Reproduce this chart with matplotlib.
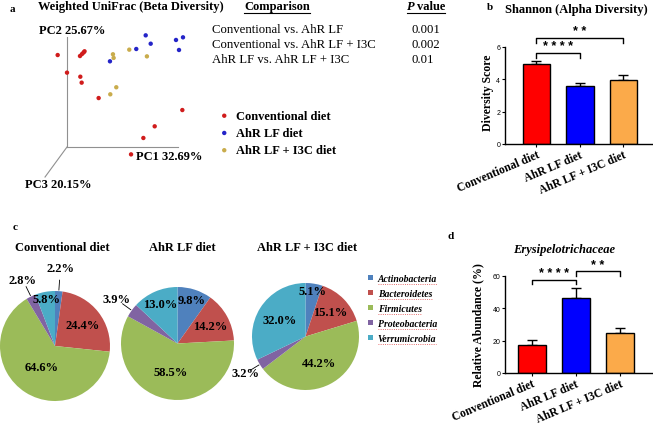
import matplotlib
matplotlib.use('Agg')
import matplotlib.pyplot as plt
import numpy as np
from matplotlib.lines import Line2D

W, H = 653, 427
plt.rcParams['font.family'] = ['Liberation Serif', 'DejaVu Serif']
plt.rcParams['font.weight'] = 'bold'
plt.rcParams['axes.labelweight'] = 'bold'

groups = ['Conventional diet', 'AhR LF diet', 'AhR LF + I3C diet']
grp_colors = ['#FF0000', '#0000FF', '#FBAA4A']

# --- a : PCoA (projected, PC1 and PC2 axis lengths = 1)
conv_x = [-0.084, 0.117, 0.135, 0.149, 0.158, 0.0, 0.12, 0.132, 0.285, 1.039, 0.79, 0.688, 0.577]
conv_y = [0.836, 0.827, 0.845, 0.859, 0.870, 0.676, 0.639, 0.585, 0.445, 0.336, 0.188, 0.082, -0.067]
ahr_x = [0.709, 0.754, 0.624, 0.387, 0.982, 1.045, 1.009]
ahr_y = [1.015, 0.939, 0.891, 0.779, 0.973, 0.997, 0.882]
i3c_x = [0.414, 0.42, 0.561, 0.72, 0.444, 0.39]
i3c_y = [0.843, 0.81, 0.885, 0.824, 0.543, 0.479]
dot_colors = ['#D01C1C', '#2424C8', '#C9AC4C']

comparisons = ['Conventional vs. AhR LF', 'Conventional vs. AhR LF + I3C', 'AhR LF vs. AhR LF + I3C']
p_values = ['0.001', '0.002', '0.01']

# --- b : Shannon
shannon_mean = [4.96, 3.57, 3.97]
shannon_err = [0.15, 0.18, 0.30]

# --- c : phyla
phyla = ['Actinobacteria', 'Bacteroidetes', 'Firmicutes', 'Proteobacteria', 'Verrumicrobia']
phyla_colors = ['#4F81BD', '#C0504D', '#9BBB59', '#8064A2', '#4BACC6']
pie_conv = [2.2, 24.4, 64.6, 2.8, 5.8]
pie_ahr = [9.8, 14.2, 58.5, 3.9, 13.0]
pie_i3c = [5.1, 15.1, 44.2, 3.2, 32.0]

# --- d : Erysipelotrichaceae
erysi_mean = [17.3, 46.2, 24.5]
erysi_err = [3.3, 6.4, 3.5]

fig = plt.figure(figsize=(W / 100, H / 100), dpi=100)


def box(l, t, r, b):
    return [l / W, 1 - b / H, (r - l) / W, (b - t) / H]


def ftext(x, y, s, **kw):
    kw.setdefault('va', 'center')
    return fig.text(x / W, 1 - y / H, s, **kw)


# ================= a =================
ax_a = fig.add_axes(box(0, 0, 215, 220))
ax_a.set_xlim(-67 / 111, 148 / 111)
ax_a.set_ylim(-72 / 110, 148 / 110)
ax_a.axis('off')
ax_a.plot([0, 1], [0, 0], color='#909090', lw=0.8)
ax_a.plot([0, 0], [0, 1], color='#909090', lw=0.8)
ax_a.plot([0, -0.198], [0, -0.273], color='#909090', lw=0.8)
for xs, ys, c, lab in zip([conv_x, ahr_x, i3c_x], [conv_y, ahr_y, i3c_y], dot_colors, groups):
    ax_a.scatter(xs, ys, s=10, color=c, edgecolors='none', label=lab, clip_on=False, zorder=3)
ax_a.legend(loc='upper left', bbox_to_anchor=(218 / W, 1 - 111 / H), bbox_transform=fig.transFigure,
            frameon=False, fontsize=9, handlelength=1.0, handletextpad=0.45, labelspacing=0.42,
            borderpad=0, borderaxespad=0, markerscale=1.0)

ftext(10, 9, 'a', fontsize=8)
ftext(38, 7, 'Weighted UniFrac (Beta Diversity)', fontsize=9)
ftext(39, 31, 'PC2 25.67%', fontsize=9)
ftext(136, 157, 'PC1 32.69%', fontsize=9)
ftext(25, 185, 'PC3 20.15%', fontsize=9)

t_comp = ftext(244, 7, 'Comparison', fontsize=9)
t_p = ftext(407, 7, 'P', fontsize=9, style='italic')
t_val = ftext(417, 7, 'value', fontsize=9)
for i, (cmp, pv) in enumerate(zip(comparisons, p_values)):
    ftext(212, 30 + 15 * i, cmp, fontsize=9.2, fontweight='normal')
    ftext(412, 30 + 15 * i, pv, fontsize=9.2, fontweight='normal')


# ================= b / d bar panels =================
def bar_panel(rect, means, errs, xlim, ylim, yticks, ylabel, lab_xy, brackets):
    ax = fig.add_axes(rect)
    x = np.arange(len(means))
    ax.bar(x, means, width=0.63, color=grp_colors, edgecolor='black', linewidth=1.0, zorder=2)
    ax.errorbar(x, means, yerr=[np.zeros(len(errs)), errs], fmt='none', ecolor='black',
                elinewidth=1.0, capsize=3.5, capthick=1.0, zorder=1)
    ax.set_xlim(*xlim)
    ax.set_ylim(*ylim)
    ax.set_yticks(yticks)
    ax.spines['top'].set_visible(False)
    ax.spines['right'].set_visible(False)
    ax.spines['left'].set_linewidth(1.0)
    ax.spines['bottom'].set_linewidth(1.0)
    ax.tick_params(length=2.5, width=0.8, pad=1, labelsize=5)
    for lab in ax.get_yticklabels():
        lab.set_family('Liberation Sans')
        lab.set_fontweight('normal')
    ax.set_xticks(x)
    ax.set_xticklabels(groups, rotation=23, ha='right', rotation_mode='anchor', fontsize=8.4)
    ax.tick_params(axis='x', pad=0.5)
    ax.set_ylabel(ylabel, fontsize=8.5, fontweight='bold')
    ax.yaxis.set_label_coords(*lab_xy)
    for i0, i1, yb, dy, stars in brackets:
        ax.plot([i0, i0, i1, i1], [yb - dy, yb, yb, yb - dy], color='black', lw=1.0, clip_on=False)
        ax.text((i0 + i1) / 2, yb + dy * 0.1, stars, ha='center', va='bottom', fontsize=9,
                family='Liberation Sans', fontweight='bold')
    return ax


bar_panel(box(505, 47.7, 653, 145), shannon_mean, shannon_err, (-0.72, 2.68), (0, 6), [0, 2, 4, 6],
          'Diversity Score', (-0.075, 0.54),
          [(0, 1, 5.63, 0.3, '* * * *'), (0, 2, 6.55, 0.3, '* *')])
ftext(487, 8, 'b', fontsize=8)
ftext(576, 10, 'Shannon (Alpha Diversity)', fontsize=9, ha='center')

bar_panel(box(505, 277, 653, 374), erysi_mean, erysi_err, (-0.61, 2.75), (0, 60), [0, 20, 40, 60],
          'Relative Abundance (%)', (-0.14, 0.505),
          [(0, 1, 57.7, 2.7, '* * * *'), (1, 2, 63.1, 2.9, '* *')])
ftext(448, 237, 'd', fontsize=8)
ftext(564, 250, 'Erysipelotrichaceae', fontsize=9, ha='center', style='italic')

# ================= c pies =================
pies = [
    (pie_conv, box(0, 292, 110, 402), 62, [1.42, 0.63, 0.46, 1.34, 0.87]),
    (pie_ahr, box(121, 288, 234, 401), 182, [0.81, 0.66, 0.51, 1.34, 0.77]),
    (pie_i3c, box(252, 284, 359, 391), 307, [0.86, 0.65, 0.56, 1.32, 0.58]),
]
ftext(13, 228, 'c', fontsize=8)
legend_wedges = None
for k, (vals, rect, tx, lab_r) in enumerate(pies):
    ax = fig.add_axes(rect)
    wedges, _ = ax.pie(vals, colors=phyla_colors, startangle=90, counterclock=False,
                       wedgeprops=dict(linewidth=0))
    ax.set_xlim(-1, 1)
    ax.set_ylim(-1, 1)
    for w, v, r in zip(wedges, vals, lab_r):
        ang = np.deg2rad((w.theta1 + w.theta2) / 2)
        c, s = np.cos(ang), np.sin(ang)
        ax.text(r * c, r * s, f'{v:.1f}%', ha='center', va='center', fontsize=9, clip_on=False)
        if r > 1.1:
            ax.plot([1.02 * c, 1.2 * c], [1.02 * s, 1.2 * s], color='black', lw=0.6, clip_on=False)
    if legend_wedges is None:
        legend_wedges = wedges
    ftext(tx, 248, groups[k], fontsize=9, ha='center')

leg_c = fig.legend(legend_wedges, phyla, loc='upper left', bbox_to_anchor=(368 / W, 1 - 275 / H),
                   frameon=False, prop=dict(family='Liberation Serif', style='italic', weight='bold', size=7),
                   handlelength=0.5, handleheight=0.5, handletextpad=0.5, labelspacing=0.62,
                   borderpad=0, borderaxespad=0)

# underlines
fig.canvas.draw()
inv = fig.transFigure.inverted()


def underline(bb, color, lw, ls='-', off=1.5):
    (x0, y0), (x1, _) = inv.transform([(bb.x0, bb.y0 - off), (bb.x1, bb.y0)])
    fig.add_artist(Line2D([x0, x1], [y0, y0], color=color, lw=lw, ls=ls, transform=fig.transFigure))


r = fig.canvas.get_renderer()
underline(t_comp.get_window_extent(r), 'black', 0.8, off=0.5)
bp = t_p.get_window_extent(r)
bv = t_val.get_window_extent(r)
bp.x1 = bv.x1
underline(bp, 'black', 0.8, off=0.5)
for t in leg_c.get_texts():
    underline(t.get_window_extent(r), '#E04040', 0.6, ls=':', off=0.5)

fig.savefig('out.png', dpi=100, facecolor='white')
